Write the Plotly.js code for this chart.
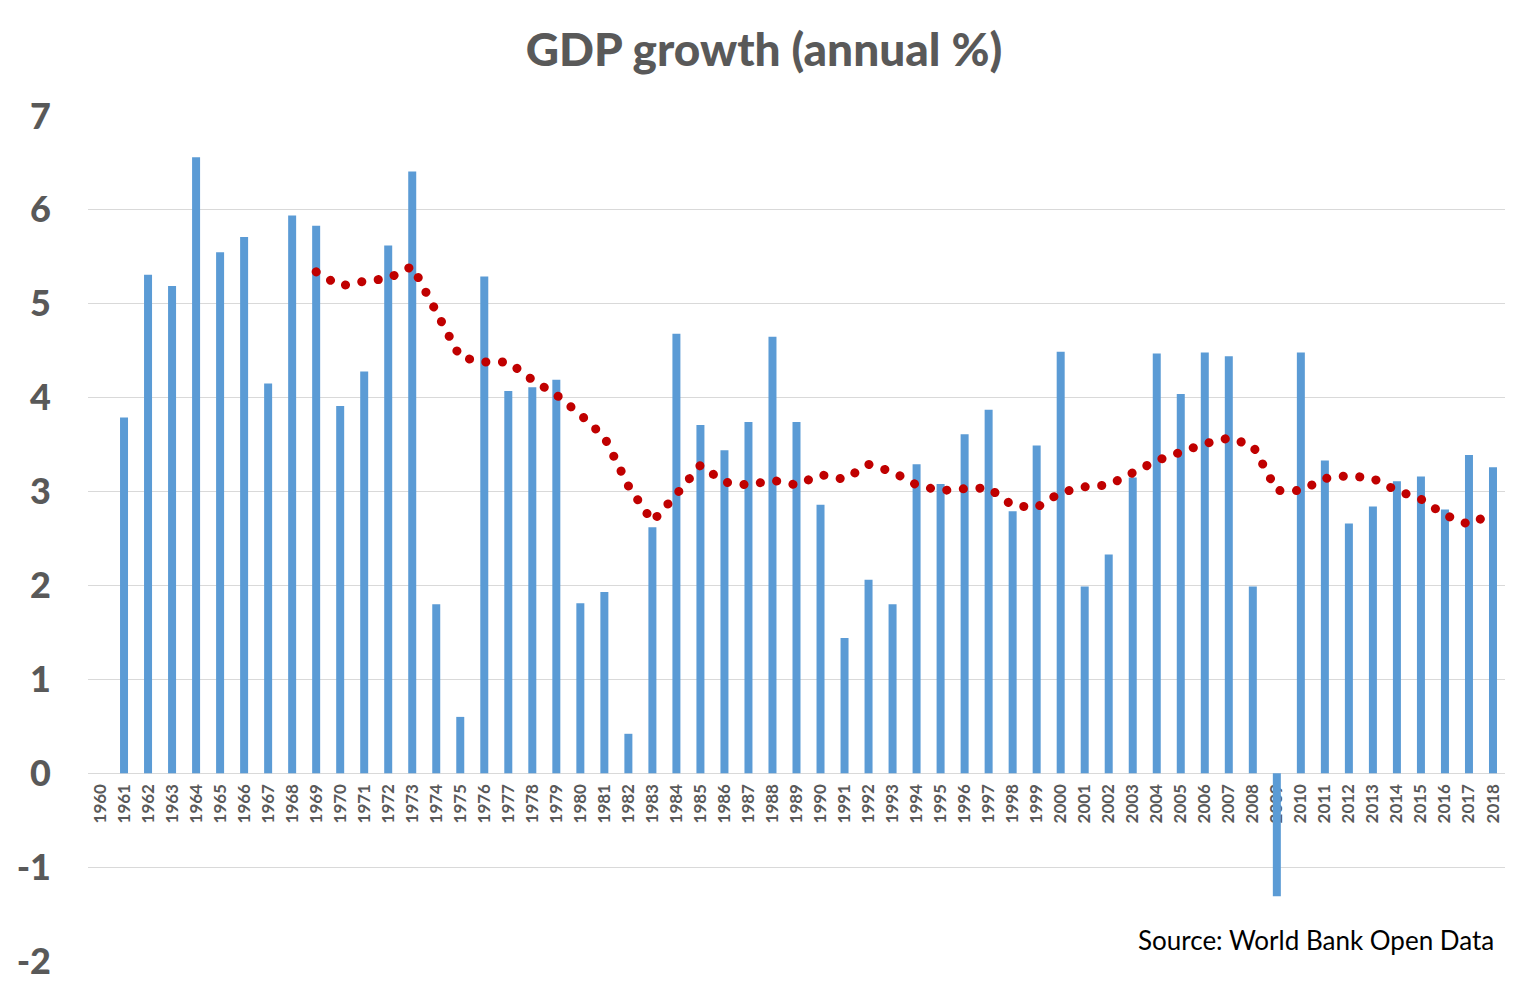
<!DOCTYPE html>
<html>
<head>
<meta charset="utf-8">
<script src="https://cdn.plot.ly/plotly-3.0.1.min.js"></script>
<style>
  html, body { margin: 0; padding: 0; background: #fff; }
  #myDiv { width: 1528px; height: 999px; outline: 2px solid #d9d9d9; outline-offset: -2px; }
</style>
</head>
<body>
<div id="myDiv"></div>
<script>
// years on the category axis (1960 has no value)
var years = [];
for (var yr = 1960; yr <= 2018; yr++) years.push(String(yr));

// GDP growth, annual %
var growth = [null,
  3.79, 5.31, 5.19, 6.56, 5.55, 5.71, 4.15, 5.94, 5.83, 3.91,
  4.28, 5.62, 6.41, 1.80, 0.60, 5.29, 4.07, 4.11, 4.19, 1.81,
  1.93, 0.42, 2.62, 4.68, 3.71, 3.44, 3.74, 4.65, 3.74, 2.86,
  1.44, 2.06, 1.80, 3.29, 3.08, 3.61, 3.87, 2.79, 3.49, 4.49,
  1.99, 2.33, 3.15, 4.47, 4.04, 4.48, 4.44, 1.99, -1.31, 4.48,
  3.33, 2.66, 2.84, 3.11, 3.16, 2.81, 3.39, 3.26];

// moving-average trend (red dots), 1969-2018
var trendYears = years.slice(9);
var trend = [
  5.34, 5.19, 5.24, 5.27, 5.40, 4.92, 4.43, 4.38, 4.38, 4.19,
  4.03, 3.82, 3.58, 3.06, 2.68, 2.97, 3.28, 3.10, 3.07, 3.12,
  3.07, 3.18, 3.13, 3.29, 3.21, 3.07, 3.01, 3.03, 3.04, 2.85,
  2.83, 2.99, 3.05, 3.07, 3.21, 3.33, 3.42, 3.51, 3.57, 3.49,
  3.01, 3.01, 3.14, 3.17, 3.14, 3.01, 2.92, 2.75, 2.65, 2.77];

var yTicks = [-2, -1, 0, 1, 2, 3, 4, 5, 6, 7];

var FONT = 'Lato, "Open Sans", sans-serif';

var bars = {
  x: years,
  y: growth,
  type: 'bar',
  marker: {color: '#5b9bd5'},
  hoverinfo: 'skip'
};

var dots = {
  x: trendYears,
  y: trend,
  type: 'scatter',
  mode: 'lines',
  line: {color: '#c00000', width: 9, dash: '0.1px,16.5px'},
  hoverinfo: 'skip'
};

var layout = {
  width: 1528,
  height: 999,
  margin: {l: 88, r: 23, t: 116, b: 38},
  paper_bgcolor: '#fff',
  plot_bgcolor: '#fff',
  showlegend: false,
  bargap: 0.667,
  font: {family: FONT, color: '#595959'},
  title: {
    text: 'GDP growth (annual %)',
    font: {family: FONT, size: 46, color: '#595959', weight: 900},
    x: 0.5, xref: 'container',
    y: 1 - 50 / 999, yref: 'container', yanchor: 'middle'
  },
  xaxis: {
    type: 'category',
    categoryorder: 'array',
    categoryarray: years,
    range: [-0.5, 58.5],
    anchor: 'free',
    position: 2 / 9,
    showline: true,
    linecolor: '#d9d9d9',
    linewidth: 1,
    showgrid: false,
    ticks: '',
    tickangle: -90,
    ticklabelstandoff: 3,
    tickfont: {family: FONT, size: 17, color: '#595959', weight: 'bold'},
    layer: 'below traces',
    fixedrange: true
  },
  yaxis: {
    range: [-2, 7],
    tickvals: yTicks,
    ticktext: yTicks.map(String),
    showgrid: true,
    gridcolor: '#d9d9d9',
    gridwidth: 1,
    zeroline: false,
    showline: false,
    ticks: '',
    ticklabelstandoff: 36,
    tickfont: {family: FONT, size: 36, color: '#595959', weight: 900},
    fixedrange: true
  },
  annotations: [{
    text: 'Source: World Bank Open Data',
    xref: 'paper', x: (1496 - 88) / 1417, xanchor: 'right',
    yref: 'y', y: -1.78, yanchor: 'middle',
    showarrow: false,
    font: {family: FONT, size: 26, color: '#000'}
  }]
};

Plotly.newPlot('myDiv', [bars, dots], layout, {displayModeBar: false, staticPlot: true}).then(function () {
  // round caps turn the dash pattern into dots
  document.querySelectorAll('.scatterlayer .js-line').forEach(function (p) {
    p.style.strokeLinecap = 'round';
  });
});
</script>
</body>
</html>
